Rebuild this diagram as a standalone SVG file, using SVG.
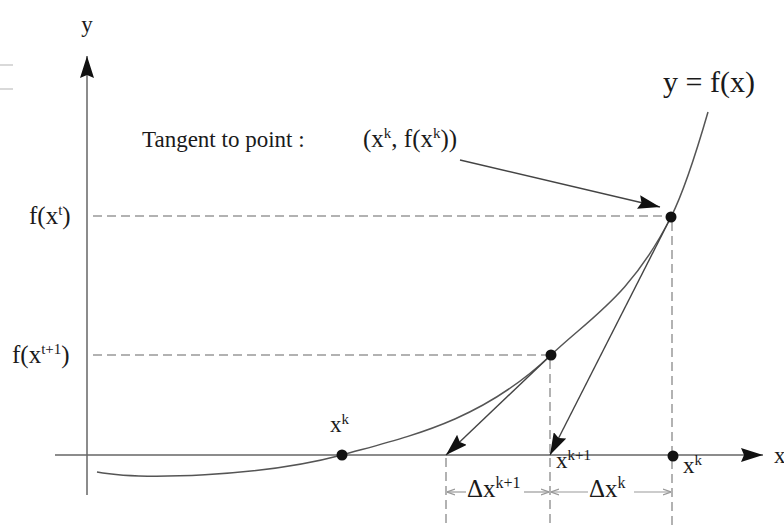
<svg xmlns="http://www.w3.org/2000/svg" width="784" height="525" viewBox="0 0 784 525">
<defs>
<style>
.axis{stroke:#666;stroke-width:1.5;fill:none}
.dash{stroke:#999;stroke-width:1.5;stroke-dasharray:9 5;fill:none}
.curve{stroke:#555;stroke-width:1.5;fill:none}
.tan{stroke:#444;stroke-width:1.4;fill:none}
.dim{stroke:#999;stroke-width:1.2;fill:none}
.dot{fill:#111}
text{font-family:"Liberation Serif","DejaVu Serif",serif;fill:#1a1a1a}
.lbl{font-size:23px}
.sup{font-size:15px}
</style>
<marker id="ah" viewBox="0 0 22 14" refX="22" refY="7" markerWidth="22" markerHeight="14" markerUnits="userSpaceOnUse" orient="auto">
<path d="M0,0 L22,7 L0,14 L3,7 z" fill="#111"/>
</marker>
<marker id="dh" viewBox="0 0 8 8" refX="8" refY="4" markerWidth="8" markerHeight="8" markerUnits="userSpaceOnUse" orient="auto-start-reverse">
<path d="M0,1 L8,4 L0,7" fill="none" stroke="#999" stroke-width="1.2"/>
</marker>
</defs>
<rect width="784" height="525" fill="#fff"/>
<line x1="0" y1="65" x2="13" y2="65" stroke="#ccc" stroke-width="1.5"/>
<line x1="0" y1="89" x2="13" y2="89" stroke="#ccc" stroke-width="1.5"/>

<g id="axes">
<line class="axis" x1="87" y1="495" x2="87" y2="56" marker-end="url(#ah)"/>
<line class="axis" x1="55" y1="455" x2="763" y2="455" marker-end="url(#ah)"/>
<text class="lbl" x="87" y="32" text-anchor="middle">y</text>
<text class="lbl" x="774" y="463">x</text>
</g>

<g id="guides">
<line class="dash" x1="93" y1="216" x2="666" y2="216"/>
<line class="dash" x1="93" y1="355" x2="546" y2="355"/>
<line class="dash" x1="672" y1="222" x2="672" y2="525"/>
<line class="dash" x1="550" y1="360" x2="550" y2="525"/>
<line class="dash" x1="446" y1="458" x2="446" y2="525"/>
</g>

<g id="curve">
<path class="curve" d="M97,472 C140,480 260,477 342,455 C410,436 481,421.5 551,355 C591,317 631,295.8 671,217 C683,193.4 697,150 708,112"/>
<text x="663" y="92" style="font-size:30px">y = f(x)</text>
</g>

<g id="connectors">
<line class="tan" x1="671" y1="217" x2="550" y2="455" marker-end="url(#ah)"/>
<line class="tan" x1="551" y1="355" x2="446" y2="455" marker-end="url(#ah)"/>
<line class="tan" x1="460" y1="160" x2="660" y2="207" marker-end="url(#ah)"/>
<line class="dim" x1="447" y1="492" x2="466" y2="492" marker-start="url(#dh)"/>
<line class="dim" x1="524" y1="492" x2="549" y2="492" marker-end="url(#dh)"/>
<line class="dim" x1="551" y1="492" x2="588" y2="492" marker-start="url(#dh)"/>
<line class="dim" x1="634" y1="492" x2="671" y2="492" marker-end="url(#dh)"/>
</g>

<g id="point-xk-top">
<circle class="dot" cx="671" cy="217" r="5.5"/>
</g>
<g id="point-xk1-curve">
<circle class="dot" cx="551" cy="355" r="5.5"/>
</g>
<g id="point-root">
<circle class="dot" cx="342" cy="455" r="5.5"/>
<text class="lbl" x="330" y="432">x<tspan class="sup" dy="-8">k</tspan></text>
</g>
<g id="point-xk-axis">
<circle class="dot" cx="673" cy="456" r="5.5"/>
<text class="lbl" x="683" y="473">x<tspan class="sup" dy="-8">k</tspan></text>
</g>
<g id="label-xk1">
<text class="lbl" x="556" y="468">x<tspan class="sup" dy="-8">k+1</tspan></text>
</g>

<g id="ylabels">
<text x="29" y="224" style="font-size:25px">f(x<tspan class="sup" dy="-9">t</tspan><tspan dy="9">)</tspan></text>
<text x="12" y="363" style="font-size:25px">f(x<tspan class="sup" dy="-9">t+1</tspan><tspan dy="9">)</tspan></text>
</g>

<g id="annotation">
<text class="lbl" x="142" y="147">Tangent to point :</text>
<text x="363" y="147" style="font-size:25px">(x<tspan class="sup" dy="-9">k</tspan><tspan dy="9">, f(x</tspan><tspan class="sup" dy="-9">k</tspan><tspan dy="9">))</tspan></text>
</g>

<g id="dims">
<text x="467" y="497" style="font-size:25px">Δx<tspan style="font-size:16px" dy="-9">k+1</tspan></text>
<text x="589" y="497" style="font-size:25px">Δx<tspan style="font-size:16px" dy="-9">k</tspan></text>
</g>
</svg>
